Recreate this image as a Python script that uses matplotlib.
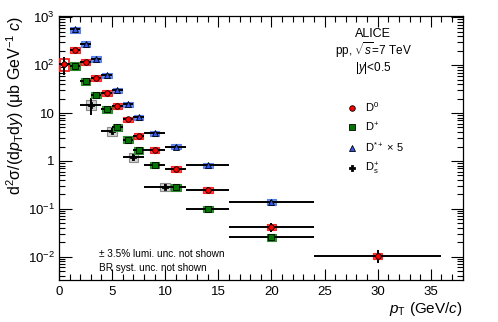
import numpy as np
import matplotlib
matplotlib.use("Agg")
import matplotlib.pyplot as plt
from matplotlib.patches import Rectangle
from matplotlib.lines import Line2D

plt.rcParams['font.family'] = ['Liberation Sans', 'DejaVu Sans']
plt.rcParams['mathtext.fontset'] = 'custom'
plt.rcParams['mathtext.rm'] = 'Liberation Sans'
plt.rcParams['mathtext.it'] = 'Liberation Sans:italic'
plt.rcParams['mathtext.bf'] = 'Liberation Sans:bold'

# ---------------- data ----------------
d0_lo = [0, 1, 2, 3, 4, 5, 6, 7, 8, 10, 12, 16, 24]
d0_hi = [1, 2, 3, 4, 5, 6, 7, 8, 10, 12, 16, 24, 36]
d0_val = [105, 205, 115, 54, 26, 14, 7.4, 3.3, 1.7, 0.68, 0.25, 0.042, 0.0106]
d0_stat = [0.40, 0.08, 0.05, 0.05, 0.05, 0.05, 0.05, 0.06, 0.06, 0.08, 0.12, 0.20, 0.30]
d0_syst = [0.28, 0.14, 0.14, 0.14, 0.14, 0.14, 0.14, 0.14, 0.14, 0.14, 0.14, 0.14, 0.14]

dp_lo = [1, 2, 3, 4, 5, 6, 7, 8, 10, 12, 16]
dp_hi = [2, 3, 4, 5, 6, 7, 8, 10, 12, 16, 24]
dp_val = [97, 46, 24, 11.9, 5.0, 2.8, 1.7, 0.835, 0.28, 0.10, 0.026]
dp_stat = [0.06, 0.05, 0.05, 0.05, 0.05, 0.05, 0.05, 0.06, 0.07, 0.08, 0.12]
dp_syst = [0.17, 0.16, 0.16, 0.16, 0.16, 0.16, 0.16, 0.16, 0.16, 0.16, 0.16]

ds_lo = [1, 2, 3, 4, 5, 6, 7, 8, 10, 12, 16]
ds_hi = [2, 3, 4, 5, 6, 7, 8, 10, 12, 16, 24]
ds_val = [556, 276, 135, 61, 30, 15.3, 8.1, 3.8, 2.0, 0.82, 0.139]  # D*+ x 5
ds_stat = [0.08, 0.05, 0.05, 0.05, 0.05, 0.05, 0.05, 0.05, 0.06, 0.07, 0.12]
ds_syst = [0.14, 0.13, 0.13, 0.13, 0.13, 0.13, 0.13, 0.13, 0.13, 0.13, 0.13]

dsp_lo = [2, 4, 6, 8]
dsp_hi = [4, 6, 8, 12]
dsp_val = [15, 4.2, 1.2, 0.29]
dsp_stat = [0.40, 0.15, 0.15, 0.12]
dsp_syst = [0.22, 0.20, 0.20, 0.20]

BOX_HW = 0.45

fig = plt.figure(figsize=(4.98, 3.22), dpi=100)
ax = fig.add_axes([59/498, 42/322, (462.7-59)/498, (280-16)/322])


def draw_series(lo, hi, val, stat, syst, mk, mfc, boxfc, boxec, ms, open_first=False, z=3):
    lo = np.array(lo, float); hi = np.array(hi, float); val = np.array(val, float)
    stat = np.array(stat); syst = np.array(syst)
    x = 0.5 * (lo + hi)
    for i in range(len(x)):
        y0 = val[i] * (1 - syst[i]); y1 = val[i] * (1 + syst[i])
        if open_first and i == 0:
            r = Rectangle((x[i] - BOX_HW, y0), 2 * BOX_HW, y1 - y0, facecolor='none',
                          edgecolor=boxec, lw=1.3, zorder=z)
        else:
            r = Rectangle((x[i] - BOX_HW, y0), 2 * BOX_HW, y1 - y0, facecolor=boxfc,
                          edgecolor=boxec, lw=0.8, zorder=z)
        ax.add_patch(r)
    ax.errorbar(x, val, xerr=[x - lo, hi - x], yerr=[val * stat, val * stat],
                fmt='none', ecolor='black', elinewidth=1.4, capsize=0, zorder=z + 1)
    ax.plot(x, val, linestyle='none', marker=mk, ms=ms, mfc=mfc, mec='black',
            mew=0.6, zorder=z + 2)


draw_series(dsp_lo, dsp_hi, dsp_val, dsp_stat, dsp_syst, 'P', 'black', '#d0d0d0', '#8a8a8a', 4.0, z=2)
draw_series(dp_lo, dp_hi, dp_val, dp_stat, dp_syst, 's', '#007700', '#2f962f', '#2a8a2a', 3.8, z=4)
draw_series(d0_lo, d0_hi, d0_val, d0_stat, d0_syst, 'o', '#ff0000', '#ff4545', '#ff2020', 4.0,
            open_first=True, z=6)
draw_series(ds_lo, ds_hi, ds_val, ds_stat, ds_syst, '^', '#3355ee', '#6690f2', '#5580ee', 4.0, z=8)

ax.set_yscale('log')
ax.set_xlim(0, 38)
ax.set_ylim(10**-2.485, 1060)

yt = [1e-2, 1e-1, 1, 10, 1e2, 1e3]
ax.set_yticks(yt)
ax.set_yticklabels([r'$10^{-2}$', r'$10^{-1}$', '1', '10', r'$10^{2}$', r'$10^{3}$'])
ax.yaxis.set_minor_locator(matplotlib.ticker.LogLocator(base=10, subs=np.arange(2, 10), numticks=20))
ax.yaxis.set_minor_formatter(matplotlib.ticker.NullFormatter())
ax.set_xticks([0, 5, 10, 15, 20, 25, 30, 35])
ax.xaxis.set_minor_locator(matplotlib.ticker.MultipleLocator(1))

ax.tick_params(which='both', direction='in', top=True, right=True, labelsize=9.5, width=0.8)
ax.tick_params(axis='x', which='major', length=8, pad=4)
ax.tick_params(axis='x', which='minor', length=4)
ax.tick_params(axis='y', which='major', length=9, pad=3)
ax.tick_params(axis='y', which='minor', length=4.5)
for s in ax.spines.values():
    s.set_linewidth(0.9)

ax.set_xlabel(r'$p_{\rm T}$ (GeV/$c$)', fontsize=11, loc='right', labelpad=2)
ax.set_ylabel(r'd$^{2}$σ/(d$p_{\rm T}$d$y$) (μb GeV$^{-1}$ $c$)', fontsize=11.5, loc='top',
              labelpad=1)

# header text
fig.text(373/498, 1 - 34/322, 'ALICE', ha='center', va='center', fontsize=9)
fig.text(373/498, 1 - 50/322, r'pp, $\sqrt{s}$=7 TeV', ha='center', va='center', fontsize=8.5)
fig.text(373/498, 1 - 68/322, r'|$y$|<0.5', ha='center', va='center', fontsize=8.5)

fig.text(99/498, 1 - 254/322, '± 3.5% lumi. unc. not shown', ha='left', va='center', fontsize=7.2)
fig.text(99/498, 1 - 268/322, 'BR syst. unc. not shown', ha='left', va='center', fontsize=7.2)

handles = [
    Line2D([], [], ls='none', marker='o', ms=4.0, mfc='#ff0000', mec='black', mew=0.6),
    Line2D([], [], ls='none', marker='s', ms=3.8, mfc='#007700', mec='black', mew=0.6),
    Line2D([], [], ls='none', marker='^', ms=4.0, mfc='#3355ee', mec='black', mew=0.6),
    Line2D([], [], ls='none', marker='P', ms=4.0, mfc='black', mec='black', mew=0.6),
]
labels = [r'D$^{0}$', r'D$^{+}$', r'D$^{*+}$ × 5', r'D$_{\rm s}^{+}$']
leg = fig.legend(handles, labels, loc='upper left', bbox_to_anchor=(346/498, 1 - 100/322),
                 frameon=False, fontsize=8, handlelength=1.0, handletextpad=0.7,
                 labelspacing=0.6, borderpad=0, borderaxespad=0)

fig.savefig('out.png', dpi=100)
